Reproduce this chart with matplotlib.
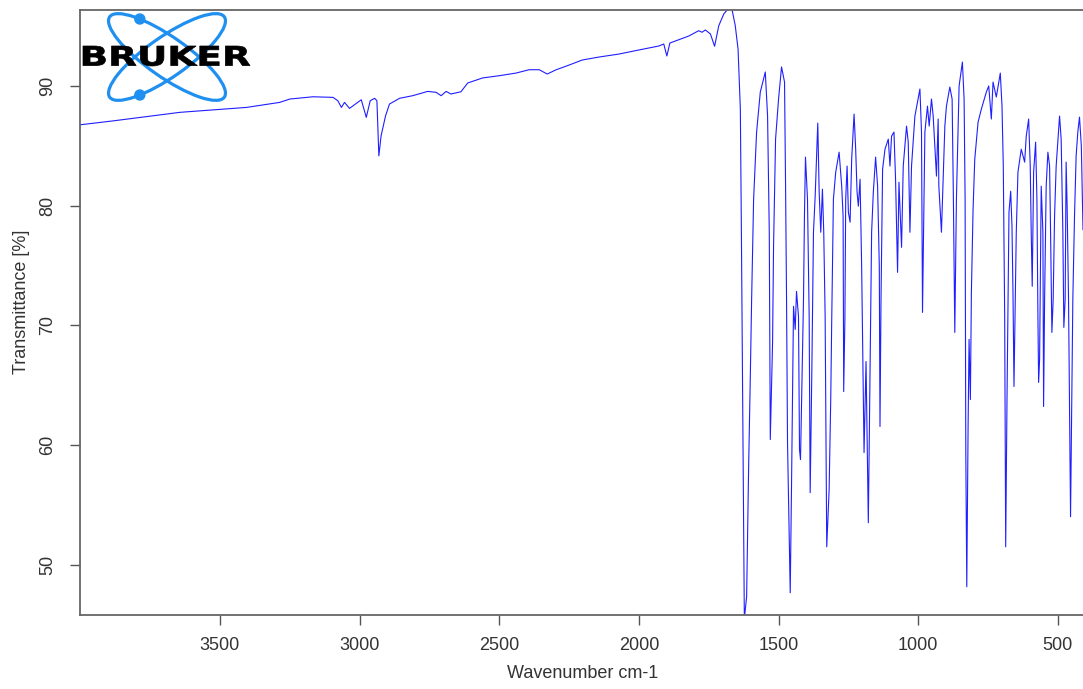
import numpy as np
import matplotlib
matplotlib.use("Agg")
import matplotlib.pyplot as plt
from matplotlib.patches import Ellipse, Circle, PathPatch
from matplotlib.textpath import TextPath
from matplotlib.font_manager import FontProperties
from matplotlib.transforms import Affine2D

plt.rcParams['font.family'] = ['Liberation Sans', 'DejaVu Sans']

# IR spectrum (wavenumber cm-1, transmittance %)
wavenumber = [
    4000, 3881, 3643, 3405, 3286, 3250, 3214, 3167, 3095, 3078, 3065, 3054,
    3036, 2994, 2976, 2962, 2946, 2938, 2931, 2923, 2907, 2893, 2857, 2810,
    2756, 2726, 2708, 2690, 2673, 2637, 2613, 2560, 2500, 2440, 2393, 2357,
    2328, 2298, 2250, 2203, 2143, 2071, 2000, 1929, 1911, 1900, 1889, 1821,
    1786, 1774, 1762, 1744, 1729, 1714, 1696, 1679, 1667, 1655, 1645,
    1636.8, 1633.2, 1622.5, 1614.3, 1607.1, 1601.1, 1596.4, 1589.3, 1578.6,
    1565.4, 1547.5, 1539.3, 1533.2, 1529.6, 1521.4, 1517.9, 1510.7, 1500,
    1489.3, 1478.6, 1475, 1471.4, 1467.9, 1458.2, 1453.6, 1446.4, 1440.4,
    1435.7, 1428.6, 1425, 1421.4, 1410.7, 1407.1, 1403.6, 1396.4, 1390.4,
    1386.8, 1381.1, 1375, 1368.9, 1359.6, 1354.6, 1348.9, 1342.9, 1338.2,
    1333.2, 1327.5, 1318.9, 1313.2, 1309.6, 1303.6, 1295.4, 1283.2, 1273.9,
    1268.9, 1266.8, 1262.5, 1259.6, 1254.6, 1250, 1243.9, 1238.2, 1229.6,
    1223.9, 1218.9, 1214.3, 1208.2, 1202.5, 1193.9, 1186.8, 1178.6, 1172.5,
    1166.8, 1160.7, 1152.5, 1145.4, 1139.3, 1136.8, 1133.2, 1127.5, 1118.9,
    1107.1, 1101.1, 1095.4, 1086.8, 1081.1, 1073.9, 1068.9, 1065.4, 1059.6,
    1053.6, 1041.8, 1035.7, 1029.6, 1023.9, 1011.8, 993.9, 988.2, 984.6,
    976.1, 966.8, 960.7, 952.5, 946.4, 934.6, 928.6, 926.1, 916.8, 904.6,
    898.9, 886.8, 878.6, 874.0, 869.0, 863.2, 853.6, 841.8, 835.7, 832.1,
    829.6, 826.1, 821.4, 817.9, 813.2, 809.6, 803.6, 797.5, 785.7, 773.9,
    756.1, 747.5, 738.2, 732.1, 720.4, 706.1, 700, 695.4, 690.4, 686.8,
    682.1, 675, 668.9, 664.3, 660.7, 657.1, 652.5, 648.9, 642.9, 631.1,
    618.9, 613.2, 604.6, 598.9, 595.4, 591.8, 586.8, 579.6, 575, 571.4,
    568.9, 565.4, 559.6, 553.6, 551.1, 547.5, 541.8, 535.7, 529.6, 526.1,
    521.4, 516.8, 511.8, 506.1, 493.9, 488.2, 482.1, 478.6, 473.9, 470.4,
    466.8, 461.8, 454.6, 450, 446.4, 440.4, 434.6, 428.6, 422.5, 416, 410,
]
transmittance = [
    86.76, 87.09, 87.80, 88.21, 88.63, 88.91, 88.99, 89.10, 89.05, 88.77, 88.21, 88.63,
    88.13, 88.85, 87.38, 88.77, 88.97, 88.77, 84.16, 85.84, 87.51, 88.49, 88.97, 89.19,
    89.55, 89.47, 89.19, 89.55, 89.33, 89.52, 90.25, 90.67, 90.86, 91.08, 91.36, 91.36,
    91.00, 91.34, 91.75, 92.17, 92.42, 92.67, 93.01, 93.34, 93.51, 92.51, 93.59, 94.18,
    94.62, 94.49, 94.68, 94.35, 93.32, 95.04, 96.02, 96.50, 96.44, 95.04, 93.09,
    88.07, 78.28, 45.5, 47.32, 58.20, 65.73, 72.17, 80.54, 86.15,
    89.49, 91.17, 87.49, 77.78, 60.46, 68.58, 76.61, 85.56, 88.91,
    91.59, 90.33, 81.96, 72.17, 60.21, 47.66, 56.52, 71.59, 69.66,
    72.84, 70.75, 59.62, 58.78, 72.17, 79.45, 84.06, 80.54, 70.75,
    56.02, 65.73, 77.78, 80.79, 86.9, 81.13, 77.78, 81.38, 77.78,
    70.75, 51.50, 56.27, 63.80, 70.50, 80.54, 82.80, 84.47, 81.63,
    79.12, 64.47, 70.50, 80.54, 83.31, 79.45, 78.62, 83.89, 87.65,
    84.72, 81.13, 79.96, 82.21, 74.93, 59.37, 66.98, 53.51, 65.73,
    77.78, 81.13, 84.06, 81.63, 74.93, 61.55, 72.17, 83.05, 84.72,
    85.56, 83.31, 85.81, 86.15, 82.21, 74.43, 81.96, 79.96, 76.52,
    83.31, 86.65, 85.31, 77.78, 83.31, 87.49, 89.75, 86.15, 71.08,
    86.15, 88.32, 86.65, 88.91, 87.49, 82.47, 87.24, 81.63, 77.78, 86.65,
    88.32, 89.91, 88.91, 80.54, 69.41, 80.54, 90.0, 92.0, 88.91, 80.54,
    59.37, 48.16, 61.55, 68.83, 63.80, 72.76, 79.70, 83.89, 86.98, 88.07,
    89.49, 90.0, 87.24, 90.33, 89.08, 91.08, 88.32, 83.31, 70.75, 51.50,
    63.80, 79.45, 81.21, 78.28, 72.76, 64.89, 72.17, 77.78, 82.80, 84.72,
    83.64, 85.81, 87.24, 83.31, 77.78, 73.26, 82.80, 85.31, 80.54, 70.75,
    65.23, 67.15, 81.63, 77.78, 63.22, 72.17, 81.63, 84.47, 83.31, 77.78,
    69.41, 72.17, 79.12, 83.31, 87.49, 85.56, 77.78, 69.83, 72.17, 83.64,
    79.96, 72.17, 54.01, 63.80, 72.17, 79.12, 84.14, 86.15, 87.40, 85.0, 78.0,
]
x_ticks = [3500, 3000, 2500, 2000, 1500, 1000, 500]
y_ticks = [50, 60, 70, 80, 90]

W, H = 1083, 689
fig = plt.figure(figsize=(W / 100, H / 100), dpi=100)
ax = fig.add_axes([80 / W, (H - 615) / H, (W - 80) / W, 605 / H])

ax.plot(wavenumber, transmittance, color='#1f1fff', linewidth=0.8)
ax.set_xlim(4001, 410)
ax.set_ylim(45.8, 96.35)

ax.set_xticks(x_ticks)
ax.set_xticklabels([str(t) for t in x_ticks])
ax.set_yticks(y_ticks)
ax.set_yticklabels([str(t) for t in y_ticks], rotation=90, va='center')
ax.tick_params(axis='both', labelsize=13, length=7, width=1.0,
               color='#555555', labelcolor='#333333')
ax.tick_params(axis='x', pad=9)
ax.tick_params(axis='y', pad=10)
for side in ['left', 'bottom', 'top']:
    ax.spines[side].set_color('#666666')
    ax.spines[side].set_linewidth(1.3)
ax.spines['right'].set_visible(False)

fig.text(583 / W, 1 - 674 / H, 'Wavenumber cm-1', ha='center', va='center',
         fontsize=13, color='#333333')
fig.text(22 / W, 1 - 302 / H, 'Transmittance [%]', ha='center', va='center',
         rotation=90, fontsize=13, color='#333333')

# Bruker logo, drawn in pixel coordinates on a transparent overlay
logo = fig.add_axes([0, 0, 1, 1], zorder=5)
logo.set_xlim(0, W)
logo.set_ylim(H, 0)
logo.axis('off')
logo.patch.set_alpha(0)

blue = '#2090f0'
cx, cy, a, b = 167, 57, 70, 20
for ang in (35, -35):
    logo.add_patch(Ellipse((cx, cy), 2 * a, 2 * b, angle=ang, fill=False,
                           edgecolor=blue, linewidth=2.3))
for ang, t in ((35, 231), (-35, 129)):
    th, tt = np.radians(ang), np.radians(t)
    u, v = a * np.cos(tt), b * np.sin(tt)
    px = cx + u * np.cos(th) - v * np.sin(th)
    py = cy + u * np.sin(th) + v * np.cos(th)
    logo.add_patch(Circle((px, py), 5, color=blue))

tp = TextPath((0, 0), 'BRUKER', size=20,
              prop=FontProperties(family='DejaVu Sans', weight='bold'))
ext = tp.get_extents()
sx = (250 - 83) / ext.width
sy = (66 - 46) / ext.height
tr = Affine2D().translate(-ext.x0, -ext.y0).scale(sx, -sy).translate(83, 66)
logo.add_patch(PathPatch(tr.transform_path(tp), facecolor='black',
                         edgecolor='black', linewidth=0.5))

fig.savefig('out.png', dpi=100)
